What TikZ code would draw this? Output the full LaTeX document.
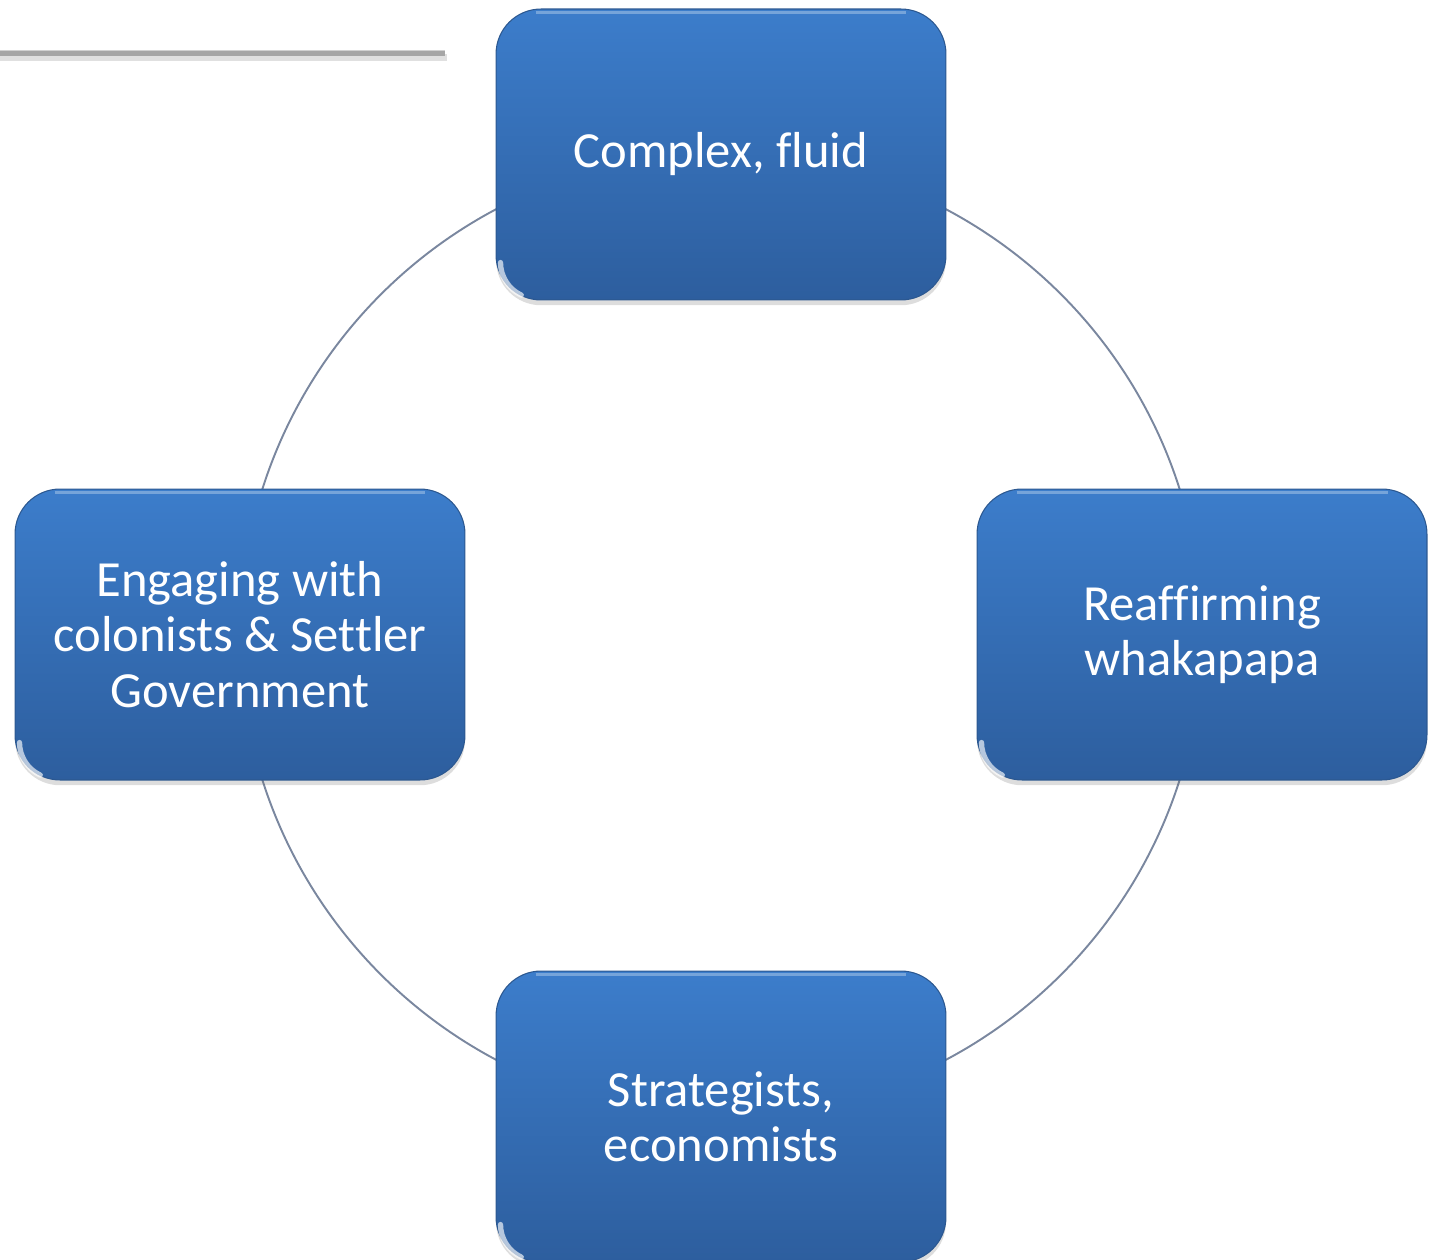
\documentclass[tikz,border=0pt]{standalone}
\usepackage{fontspec}
\setmainfont{Carlito}[Ligatures=NoCommon]
\usetikzlibrary{shadows,calc}
\definecolor{boxtop}{HTML}{3C7DCB}
\definecolor{boxbot}{HTML}{2D5E9E}
\definecolor{boxedge}{HTML}{2C5890}
\definecolor{ringcol}{HTML}{7A879F}
\definecolor{rulecol}{HTML}{A6A6A6}
\begin{document}
\begin{tikzpicture}[x=0.02cm,y=-0.02cm,
  cyclebox/.style={rectangle, rounded corners=0.9cm, minimum width=9cm, minimum height=5.82cm,
    top color=boxtop, bottom color=boxbot, draw=boxedge, line width=0.6pt,
    text=white, align=center, font=\fontsize{28.8}{31.5}\selectfont,
    drop shadow={shadow xshift=0pt, shadow yshift=-3pt, opacity=0.22, fill=black!60}},
  ring/.style={draw=ringcol, line width=1.1pt}]
  \useasboundingbox (0,0) rectangle (1433,1260);
  % title rule at the top left
  \fill[black!12] (0,54) rectangle (447,61);
  \fill[rulecol] (0,50) rectangle (445,56);
  \fill[black!18] (0,50) rectangle (445,51);
  % ring linking the four stages
  \coordinate (c) at (721,634.5);
  \draw[ring] (c) circle[radius=481*0.02cm];
  % the four stages
  \node[cyclebox] (top) at (721,154.5) {Complex, fluid};
  \node[cyclebox] (right) at (1202,634.5) {Reaffirming\\whakapapa};
  \node[cyclebox] (left) at (240,634.5) {Engaging with\\colonists \& Settler\\Government};
  \node[cyclebox] (bottom) at (721,1116.5) {Strategists,\\economists};
  % soft highlights along the upper edge and lower left corner
  \foreach \n in {top,right,left,bottom}{
    \draw[white, opacity=0.3, line width=2pt]
      ($(\n.north west)+(40,4)$) -- ($(\n.north east)+(-40,4)$);
    \draw[white, opacity=0.65, line width=3pt, line cap=round]
      ($(\n.south west)+(5,-38)$) arc[start angle=180, end angle=245, radius=36*0.02cm];
  }
\end{tikzpicture}
\end{document}
